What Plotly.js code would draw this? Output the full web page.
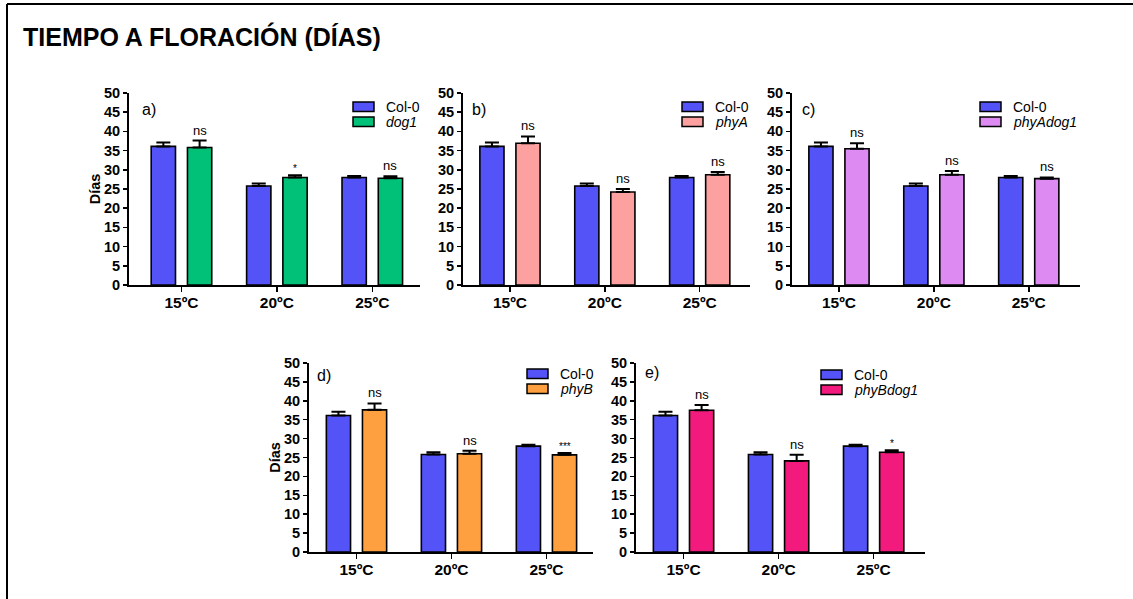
<!DOCTYPE html>
<html><head><meta charset="utf-8">
<script src="https://cdn.plot.ly/plotly-3.0.1.min.js"></script>
<style>html,body{margin:0;padding:0;background:#fff}#chart{width:1133px;height:599px}</style>
</head><body><div id="chart"></div>
<script>
// ---- data ----
const categories = ['15ºC', '20ºC', '25ºC'];
const col0Values = [36.1, 25.8, 28.0];
const col0Errors = [1.0, 0.6, 0.4];
const dog1Values = [35.8, 28.0, 27.8];
const dog1Errors = [1.8, 0.6, 0.5];
const phyAValues = [36.9, 24.2, 28.7];
const phyAErrors = [1.8, 0.8, 0.7];
const phyAdog1Values = [35.5, 28.7, 27.7];
const phyAdog1Errors = [1.4, 1.0, 0.3];
const phyBValues = [37.6, 26.0, 25.7];
const phyBErrors = [1.7, 0.8, 0.5];
const phyBdog1Values = [37.5, 24.1, 26.4];
const phyBdog1Errors = [1.4, 1.6, 0.5];
const sigA = ['ns', '*', 'ns'];
const sigB = ['ns', 'ns', 'ns'];
const sigC = ['ns', 'ns', 'ns'];
const sigD = ['ns', 'ns', '***'];
const sigE = ['ns', 'ns', '*'];
const mainTitle = 'TIEMPO A FLORACIÓN (DÍAS)';
const yTitle = 'Días';

// ---- layout helpers ----
const W = 1133, H = 599;
const FONT = 'Liberation Sans, Arial, sans-serif';
const px = x => x / W;
const py = y => 1 - y / H;
const COL0 = '#5353F7';

const panels = [
  {label: 'a)', name: 'dog1', vals: dog1Values, errs: dog1Errors, sig: sigA, color: '#00C177',
   box: [129, 420, 93, 285], range: [-0.55, 2.5], ytitle: true, leg: [224, 9], lab: [11, 17]},
  {label: 'b)', name: 'phyA', vals: phyAValues, errs: phyAErrors, sig: sigB, color: '#FCA0A0',
   box: [463, 750, 93, 285], range: [-0.495, 2.53], ytitle: false, leg: [219, 9], lab: [7, 17]},
  {label: 'c)', name: 'phyAdog1', vals: phyAdog1Values, errs: phyAdog1Errors, sig: sigC, color: '#DD8AF2',
   box: [792, 1080, 93, 285], range: [-0.495, 2.54], ytitle: false, leg: [188, 9], lab: [8, 17]},
  {label: 'd)', name: 'phyB', vals: phyBValues, errs: phyBErrors, sig: sigD, color: '#FFA040',
   box: [309, 593, 363, 552], range: [-0.5, 2.49], ytitle: true, leg: [218, 6], lab: [6, 12]},
  {label: 'e)', name: 'phyBdog1', vals: phyBdog1Values, errs: phyBdog1Errors, sig: sigE, color: '#F21A7C',
   box: [636, 925, 363, 552], range: [-0.5, 2.54], ytitle: false, leg: [185, 7], lab: [7, 9]},
];

const traces = [];
const layout = {
  width: W, height: H, margin: {l: 0, r: 0, t: 0, b: 0},
  paper_bgcolor: '#fff', plot_bgcolor: 'rgba(0,0,0,0)',
  showlegend: false, barmode: 'group', bargap: 0.24, bargroupgap: 0.33,
  font: {family: FONT, color: '#000'},
  annotations: [], shapes: []
};

// outer frame
layout.shapes.push({type: 'line', xref: 'paper', yref: 'paper', x0: px(7), x1: px(7), y0: py(4), y1: py(599), line: {color: '#000', width: 2}});
layout.shapes.push({type: 'line', xref: 'paper', yref: 'paper', x0: px(7), x1: px(1133), y0: py(4), y1: py(4), line: {color: '#000', width: 2}});
layout.annotations.push({text: '<b>' + mainTitle + '</b>', xref: 'paper', yref: 'paper', x: px(21), y: py(37),
  xanchor: 'left', yanchor: 'middle', showarrow: false, font: {size: 25, family: FONT, color: '#000'}});

panels.forEach((p, i) => {
  const n = i + 1;
  const xa = 'x' + (n === 1 ? '' : n), ya = 'y' + (n === 1 ? '' : n);
  const xk = 'xaxis' + (n === 1 ? '' : n), yk = 'yaxis' + (n === 1 ? '' : n);
  const [l, r, t, b] = p.box;
  const common = {type: 'bar', x: categories, xaxis: xa, yaxis: ya, hoverinfo: 'skip'};
  traces.push(Object.assign({}, common, {name: 'Col-0', y: col0Values,
    marker: {color: COL0, line: {color: '#000', width: 1.6}},
    error_y: {type: 'data', symmetric: false, array: col0Errors, arrayminus: [0, 0, 0], color: '#000', thickness: 2, width: 7}}));
  traces.push(Object.assign({}, common, {name: p.name, y: p.vals,
    marker: {color: p.color, line: {color: '#000', width: 1.6}},
    error_y: {type: 'data', symmetric: false, array: p.errs, arrayminus: [0, 0, 0], color: '#000', thickness: 2, width: 7}}));

  layout[xk] = {domain: [px(l), px(r)], anchor: ya, type: 'category', range: p.range,
    showline: true, linewidth: 2, linecolor: '#000', ticks: 'outside', ticklen: 5, tickwidth: 1.5, tickcolor: '#000',
    showgrid: false, zeroline: false, fixedrange: true, ticklabelstandoff: -3,
    tickfont: {family: FONT, size: 15.5, color: '#000', weight: 'bold'}};
  layout[yk] = {domain: [py(b), py(t)], anchor: xa, range: [0, 50], dtick: 5, tick0: 0,
    showline: true, linewidth: 2, linecolor: '#000', ticks: 'outside', ticklen: 4, tickwidth: 1.5, tickcolor: '#000',
    showgrid: false, zeroline: false, fixedrange: true,
    tickfont: {family: FONT, size: 14.5, color: '#000', weight: 'bold'},
    title: p.ytitle ? {text: yTitle, font: {family: FONT, size: 14.5, color: '#000', weight: 'bold'}, standoff: 0} : {text: ''}};

  // significance labels
  p.sig.forEach((s, k) => {
    const small = s.indexOf('*') >= 0;
    layout.annotations.push({text: s, xref: xa, yref: ya, x: k + 0.19, y: p.vals[k] + p.errs[k],
      xanchor: 'center', yanchor: 'bottom', showarrow: false, yshift: small ? -1 : 1,
      font: {family: FONT, size: small ? 10 : 13, color: '#000'}});
  });

  // panel label
  layout.annotations.push({text: p.label, xref: 'paper', yref: 'paper', x: px(l + p.lab[0]), y: py(t + p.lab[1]),
    xanchor: 'left', yanchor: 'middle', showarrow: false, font: {family: FONT, size: 16, color: '#000'}});

  // legend
  const lx = l + p.leg[0], ly = t + p.leg[1];
  [[ 'Col-0', COL0, false ], [ p.name, p.color, true ]].forEach((it, k) => {
    const y0 = ly + k * 15;
    layout.shapes.push({type: 'rect', xref: 'paper', yref: 'paper', x0: px(lx), x1: px(lx + 21), y0: py(y0 + 9.5), y1: py(y0),
      fillcolor: it[1], line: {color: '#000', width: 1.5}});
    layout.annotations.push({text: it[2] ? '<i>' + it[0] + '</i>' : it[0], xref: 'paper', yref: 'paper',
      x: px(lx + 31), y: py(y0 + 5), xanchor: 'left', yanchor: 'middle', showarrow: false,
      font: {family: FONT, size: 14, color: '#000'}});
  });
});

Plotly.newPlot('chart', traces, layout, {staticPlot: true, displayModeBar: false});
</script></body></html>
